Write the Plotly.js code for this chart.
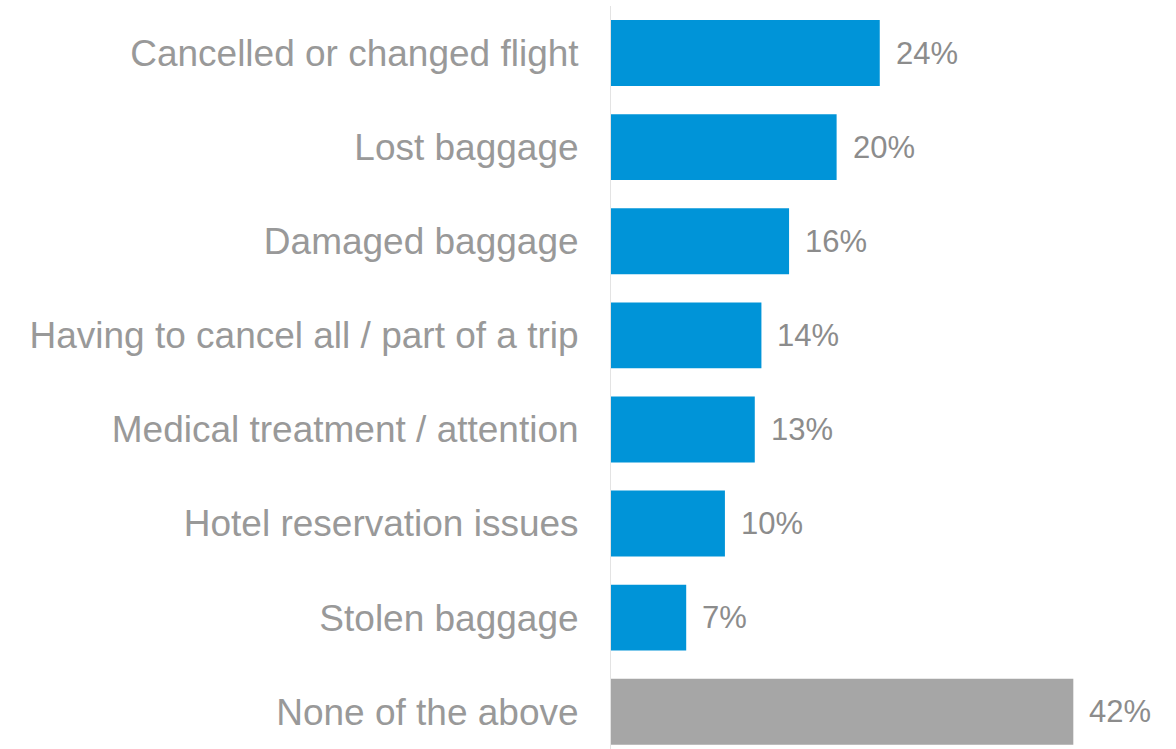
<!DOCTYPE html>
<html>
<head>
<meta charset="utf-8">
<script src="https://cdn.plot.ly/plotly-3.0.1.min.js"></script>
<style>html,body{margin:0;padding:0;background:#fff;}#chart{width:1176px;height:749px;}</style>
</head>
<body>
<div id="chart"></div>
<script>
const categories = [
  "Cancelled or changed flight",
  "Lost baggage",
  "Damaged baggage",
  "Having to cancel all / part of a trip",
  "Medical treatment / attention",
  "Hotel reservation issues",
  "Stolen baggage",
  "None of the above"
];
const values = [24.3, 20.4, 16.1, 13.6, 13.0, 10.3, 6.8, 41.8];
const valueLabels = values.map(v => Math.round(v) + "%");
const barColors = ["#0094d8","#0094d8","#0094d8","#0094d8","#0094d8","#0094d8","#0094d8","#a6a6a6"];

const trace = {
  type: "bar",
  orientation: "h",
  x: values,
  y: categories,
  marker: {color: barColors},
  cliponaxis: false,
  hoverinfo: "skip"
};

const annotations = values.map((v, i) => ({
  x: v,
  y: categories[i],
  xref: "x",
  yref: "y",
  text: valueLabels[i],
  showarrow: false,
  xanchor: "left",
  yanchor: "middle",
  xshift: 14,
  font: {family: "Liberation Sans, Arial, sans-serif", size: 31, color: "#8c8c8c"}
}));

const layout = {
  width: 1176,
  height: 749,
  margin: {l: 611, r: 12, t: 6, b: 0, pad: 0},
  paper_bgcolor: "#ffffff",
  plot_bgcolor: "#ffffff",
  showlegend: false,
  bargap: 0.3,
  annotations: annotations,
  xaxis: {
    range: [0, 50],
    showgrid: false,
    zeroline: false,
    showticklabels: false,
    showline: false,
    ticks: ""
  },
  yaxis: {
    type: "category",
    range: [7.396, -0.5],
    showgrid: false,
    zeroline: false,
    showline: true,
    linecolor: "#e3e3e3",
    linewidth: 1,
    ticks: "outside",
    ticklen: 24,
    tickcolor: "rgba(0,0,0,0)",
    tickfont: {family: "Liberation Sans, Arial, sans-serif", size: 37, color: "#999999"}
  }
};

Plotly.newPlot("chart", [trace], layout, {displayModeBar: false, staticPlot: true});
</script>
</body>
</html>
